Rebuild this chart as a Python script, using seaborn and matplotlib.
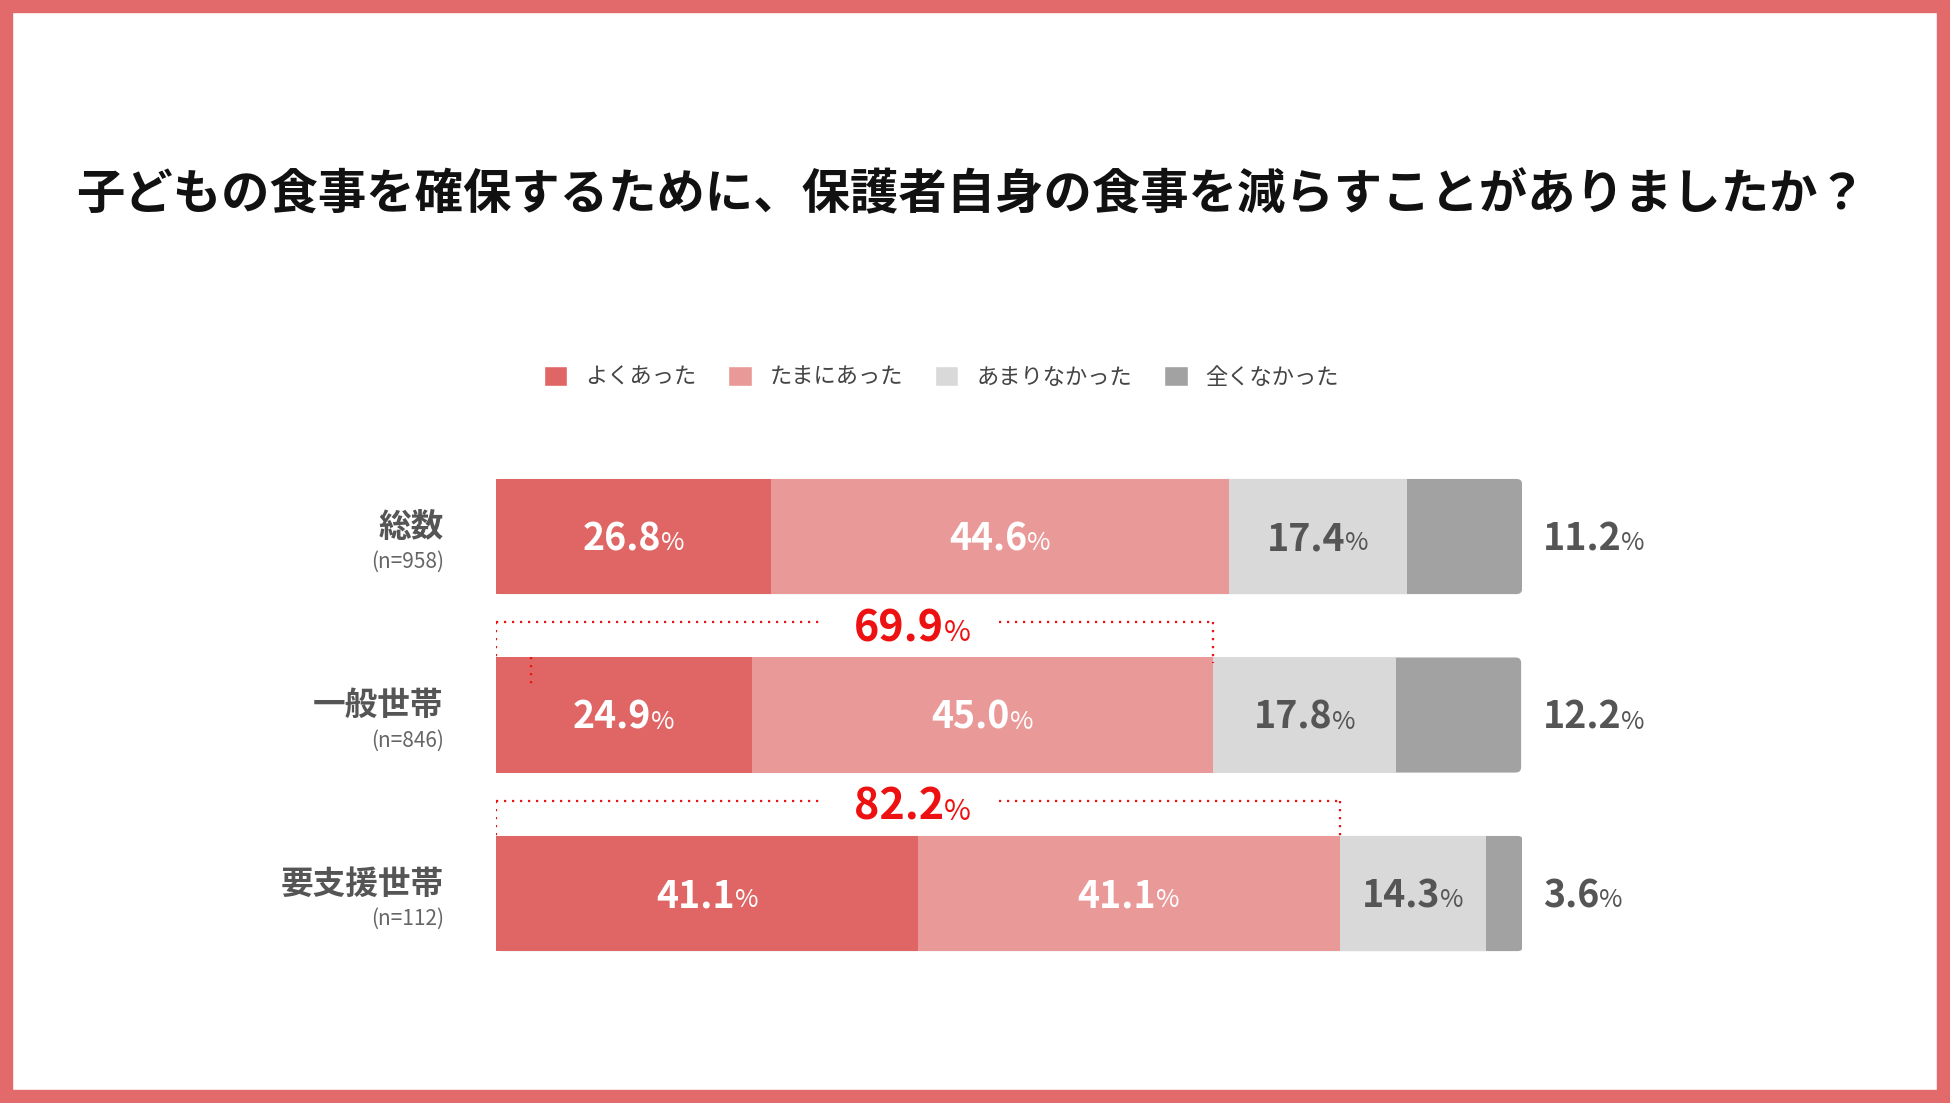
import numpy as np
import seaborn as sns
import matplotlib.pyplot as plt
from matplotlib.patches import Patch, Rectangle, FancyBboxPatch
from matplotlib.transforms import ScaledTranslation

title = '子どもの食事を確保するために、保護者自身の食事を減らすことがありましたか？'
groups = ['総数', '一般世帯', '要支援世帯']
sample_sizes = ['(n=958)', '(n=846)', '(n=112)']
answers = ['よくあった', 'たまにあった', 'あまりなかった', '全くなかった']
often = [26.8, 24.9, 41.1]
sometimes = [44.6, 45.0, 41.1]
rarely = [17.4, 17.8, 14.3]
never = [11.2, 12.2, 3.6]
# よくあった + たまにあった, shown above 一般世帯 and 要支援世帯
combined_groups = ['一般世帯', '要支援世帯']
combined = [69.9, 82.2]

colors = ['#E06666', '#EA9999', '#D9D9D9', '#A2A2A2']
border = '#E36A6A'
red = '#EE1111'
grey_text = '#555555'

sns.set_theme(style='white')
plt.rcParams['font.family'] = ['Noto Sans CJK JP', 'DejaVu Sans']

fig = plt.figure(figsize=(19.5, 11.03), dpi=100)
ax = fig.add_axes([0.2544, 0.1090, 0.5262, 0.4855])

segments = np.array([often, sometimes, rarely, never])
ends = np.cumsum(segments, axis=0)

# stacked bars: draw the cumulative totals, widest first
for k in range(3, -1, -1):
    sns.barplot(x=ends[k], y=groups, color=colors[k], width=0.645,
                saturation=1, linewidth=0, ax=ax)
    if k == 3:
        # round the right-hand corners of the full bars
        for p in list(ax.patches):
            x0, y0, w, h = p.get_x(), p.get_y(), p.get_width(), p.get_height()
            p.remove()
            ax.add_patch(FancyBboxPatch((x0, y0), w, h,
                                        boxstyle='round,pad=0,rounding_size=0.55',
                                        mutation_aspect=0.055,
                                        facecolor=colors[k], edgecolor='none'))

ax.set_xlim(0, 100)
ax.set_ylim(2.5, -0.5)
ax.set_axis_off()

renderer = fig.canvas.get_renderer()


def pct_label(x, y, value, color, size, align='center'):
    num = ax.text(x, y, f'{value:.1f}', color=color, fontsize=size,
                  fontweight='bold', ha='left', va='baseline')
    sign = ax.text(x, y, '%', color=color, fontsize=size * 0.68,
                   ha='left', va='baseline')
    w_num = num.get_window_extent(renderer).width
    w_sign = sign.get_window_extent(renderer).width
    start = -(w_num + w_sign) / 2 if align == 'center' else 0
    dy = -size * 0.36 / 72
    num.set_transform(ax.transData + ScaledTranslation(start / fig.dpi, dy, fig.dpi_scale_trans))
    sign.set_transform(ax.transData + ScaledTranslation((start + w_num) / fig.dpi, dy, fig.dpi_scale_trans))


for i, g in enumerate(groups):
    for k in range(4):
        val = segments[k][i]
        if k < 2:
            pct_label(ends[k][i] - val / 2, i, val, 'white', 27)
        elif k == 2:
            pct_label(ends[k][i] - val / 2, i, val, grey_text, 27)
        else:
            pct_label(102.0, i, val, grey_text, 27, align='left')
    ax.text(-5.1, i - 0.053, g, ha='right', va='center', fontsize=23.5,
            fontweight='bold', color=grey_text)
    ax.text(-5.1, i + 0.143, sample_sizes[i], ha='right', va='center',
            fontsize=15, color='#666666')

# dotted brackets for よくあった + たまにあった
dots = dict(color=red, lw=1.6, linestyle=(0, (1, 2.6)))
bar_top = 0.3225
for g, total in zip(combined_groups, combined):
    i = groups.index(g)
    y_line = i - 0.52
    ax.plot([0, 0], [y_line, i - bar_top], **dots)
    ax.plot([0, 31.8], [y_line, y_line], **dots)
    ax.plot([49.0, total], [y_line, y_line], **dots)
    ax.plot([total, total], [y_line, i - bar_top + 0.03], **dots)
    pct_label(40.6, i - 0.5, total, red, 31)
ax.plot([3.4, 3.4], [1 - bar_top, 1 - 0.15], **dots)

fig.text(0.498, 1 - 195 / 1103, title, ha='center', va='center',
         fontsize=34.8, fontweight='bold', color='#111111')

handles = [Patch(facecolor=c, label=a) for c, a in zip(colors, answers)]
fig.legend(handles=handles, loc='center', bbox_to_anchor=(0.4827, 0.658),
           ncol=4, frameon=False, fontsize=16, handlelength=1.05,
           handleheight=1.05, handletextpad=0.8, columnspacing=1.45,
           labelcolor='#444444')

fig.patches.append(Rectangle((0, 0), 1, 1, transform=fig.transFigure,
                             fill=False, edgecolor=border, linewidth=19, zorder=10))

fig.savefig('out.png', dpi=100, facecolor='white')
